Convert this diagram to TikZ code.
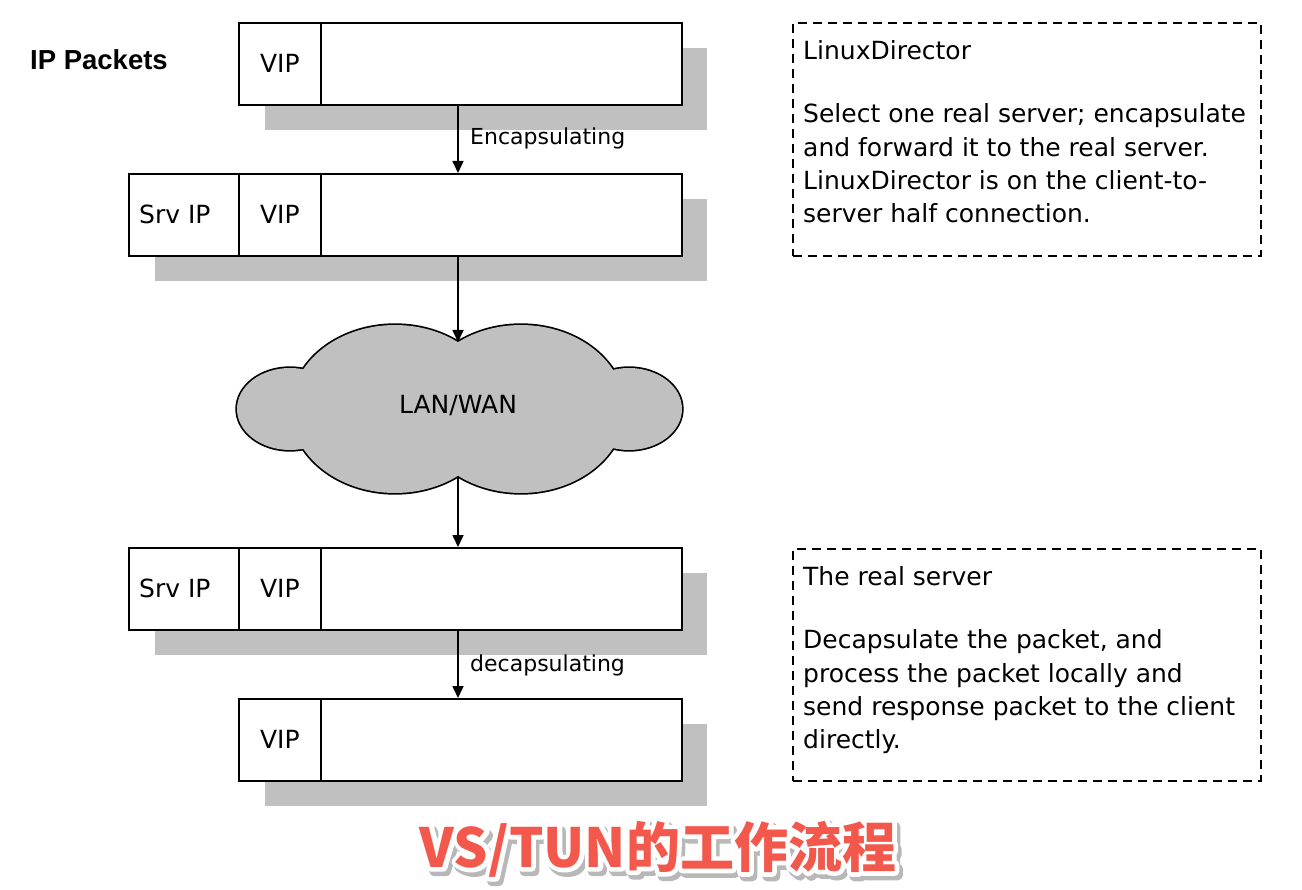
\documentclass[tikz,border=0pt]{standalone}
\usepackage{fontspec}
\setmainfont{DejaVu Sans}
\newfontfamily\lsans{Liberation Sans}
\newfontfamily\cjk{Noto Sans CJK SC}
\usetikzlibrary{arrows.meta,calc}
\definecolor{shadowgray}{RGB}{192,192,192}
\definecolor{titlered}{RGB}{242,88,76}
\newcommand{\strokedtext}[2]{\special{pdf:code q 2 Tr #1 w 1 j 1 J}#2\special{pdf:code Q}}
\tikzset{
 cell/.style={draw=black, line width=1.7pt, fill=white, inner sep=0pt, minimum height=82pt, anchor=north west, font=\fontsize{25}{30}\selectfont},
 arr/.style={line width=1.7pt, -{Triangle[length=12pt,width=11pt]}},
 note/.style={draw=black, line width=1.7pt, dash pattern=on 9pt off 6pt, anchor=north west, minimum width=468pt, minimum height=233pt, inner sep=0pt},
 notetext/.style={anchor=base west, inner sep=0pt, font=\fontsize{25}{30}\selectfont},
 lbl/.style={anchor=base west, inner sep=0pt, font=\fontsize{22}{26}\selectfont},
 ttl/.style={inner sep=0pt, font=\cjk\bfseries\fontsize{54}{60}\selectfont},
}
\begin{document}
\begin{tikzpicture}[x=1pt,y=-1pt]
\fill[white] (0,0) rectangle (1302,890);
\path[use as bounding box] (0,0) rectangle (1302,890);

% shadows
\fill[shadowgray] (265,48) rectangle (707,130);
\fill[shadowgray] (155,199) rectangle (707,281);
\fill[shadowgray] (155,573) rectangle (707,655);
\fill[shadowgray] (265,724) rectangle (707,806);

\node[anchor=base west, inner sep=0pt, font=\lsans\bfseries\fontsize{27.5}{32}\selectfont] (iptitle) at (30,70) {IP Packets};

% packet 1
\node[cell, minimum width=82pt] (p1v) at (238,22) {VIP};
\node[cell, minimum width=361pt] (p1p) at (320,22) {};
% packet 2
\node[cell, minimum width=110pt] (p2s) at (128,173) {Srv IP\hspace*{18pt}};
\node[cell, minimum width=82pt] (p2v) at (238,173) {VIP};
\node[cell, minimum width=361pt] (p2p) at (320,173) {};
% packet 3
\node[cell, minimum width=110pt] (p3s) at (128,547) {Srv IP\hspace*{18pt}};
\node[cell, minimum width=82pt] (p3v) at (238,547) {VIP};
\node[cell, minimum width=361pt] (p3p) at (320,547) {};
% packet 4
\node[cell, minimum width=82pt] (p4v) at (238,698) {VIP};
\node[cell, minimum width=361pt] (p4p) at (320,698) {};

% cloud
\foreach \c/\rx/\ry in {395/104/84, 521/104/84, 290/53/41, 629/53/41}
  \draw[line width=3.4pt] (\c,409) ellipse [x radius=\rx pt, y radius=\ry pt];
\foreach \c/\rx/\ry in {395/104/84, 521/104/84, 290/53/41, 629/53/41}
  \fill[shadowgray] (\c,409) ellipse [x radius=\rx pt, y radius=\ry pt];
\node[inner sep=0pt, font=\fontsize{25}{30}\selectfont] (cloud) at (458,406) {LAN/WAN};
\coordinate (ctop) at (458,342);
\coordinate (cbot) at (458,476);
\coordinate (ax) at (458,0);

% arrows
\draw[arr] (p1p.south -| ax) -- (p2p.north -| ax);
\draw[arr] (p2p.south -| ax) -- (ctop);
\draw[arr] (cbot) -- (p3p.north -| ax);
\draw[arr] (p3p.south -| ax) -- (p4p.north -| ax);
\node[lbl] (enc) at (470,145) {Encapsulating};
\node[lbl] (dec) at (470,671) {decapsulating};

% notes
\node[note] (n1) at (792,22) {};
\node[notetext] (n1a) at (803,60) {LinuxDirector};
\node[notetext] (n1b) at (803,123) {Select one real server; encapsulate};
\node[notetext] (n1c) at (803,157) {and forward it to the real server.};
\node[notetext] (n1d) at (803,190) {LinuxDirector is on the client-to-};
\node[notetext] (n1e) at (803,223) {server half connection.};

\node[note, minimum height=232pt] (n2) at (792,548) {};
\node[notetext] (n2a) at (803,585) {The real server};
\node[notetext] (n2b) at (803,648) {Decapsulate the packet, and};
\node[notetext] (n2c) at (803,682) {process the packet locally and};
\node[notetext] (n2d) at (803,715) {send response packet to the client};
\node[notetext] (n2e) at (803,748) {directly.};

% title with outline and shadow
\node[ttl, text=black!28] (titleshadow) at (661,853) {\strokedtext{10}{VS/TUN的工作流程}};
\node[ttl, text=white] (titleoutline) at (658,849) {\strokedtext{9}{VS/TUN的工作流程}};
\node[ttl, text=titlered] (title) at (658,849) {VS/TUN的工作流程};
\end{tikzpicture}
\end{document}
